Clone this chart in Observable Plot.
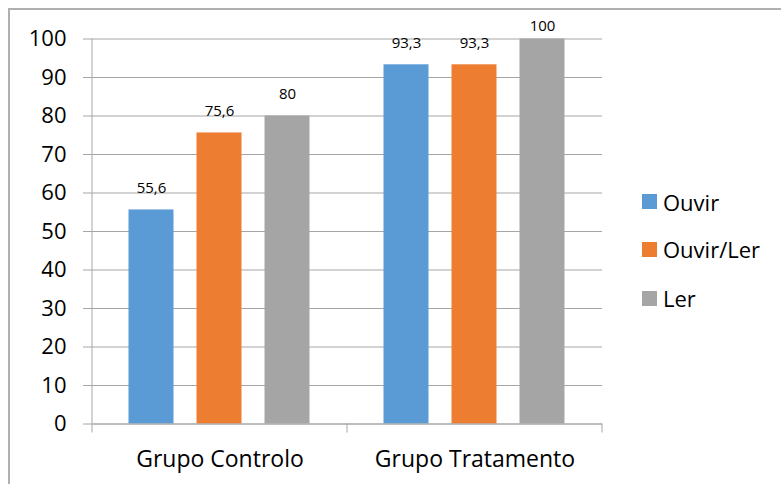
<!DOCTYPE html>
<html><head><meta charset="utf-8">
<script src="https://cdn.jsdelivr.net/npm/d3@7"></script>
<script src="https://cdn.jsdelivr.net/npm/@observablehq/plot@0.6"></script>
<style>
body{margin:0;background:#fff;font-family:"Open Sans", sans-serif;}
#wrap{position:relative;width:781px;height:484px;overflow:hidden;background:#fff;}
#border{position:absolute;left:8px;top:8px;width:800px;height:520px;border-top:2px solid #b0b0b0;border-left:2px solid #b0b0b0;box-sizing:border-box;}
#chart{position:absolute;left:0;top:0;}
#legend{position:absolute;left:642px;top:0;width:139px;height:484px;}
.item{position:absolute;left:0;height:26px;display:flex;align-items:center;white-space:nowrap;font-size:22px;color:#000;}
.sw{width:15px;height:15px;margin-right:6px;flex:none;}
</style></head>
<body><div id="wrap"><div id="border"></div><div id="chart"></div><div id="legend"></div></div>
<script>
const groups = ["Grupo Controlo", "Grupo Tratamento"];
const series = ["Ouvir", "Ouvir/Ler", "Ler"];
const colors = ["#5b9bd5", "#ed7d31", "#a5a5a5"];
const controlo = [55.6, 75.6, 80];
const tratamento = [93.3, 93.3, 100];
const yTicks = [0, 10, 20, 30, 40, 50, 60, 70, 80, 90, 100];

const values = [controlo, tratamento];
const data = [];
groups.forEach((g, i) => series.forEach((s, j) => data.push({group: g, series: s, value: values[i][j]})));
const fmt = v => String(v).replace(".", ",");
const gridColor = "#a6a6a6";
const font = "'Open Sans', sans-serif";
const atTop = d => d.value >= 100;

const plot = Plot.plot({
  width: 781, height: 484,
  marginLeft: 91.5, marginRight: 179.5, marginTop: 38.5, marginBottom: 60.5,
  style: {fontFamily: font, background: "transparent", color: "#000", overflow: "visible"},
  fx: {domain: groups, paddingInner: 0, paddingOuter: 0, label: null},
  x: {domain: series, paddingInner: 1/3, paddingOuter: 0.5145, axis: null},
  y: {domain: [0, 100], axis: null},
  color: {domain: series, range: colors},
  marks: [
    Plot.gridY(yTicks, {stroke: gridColor, strokeOpacity: 1}),
    Plot.barY(data, {fx: "group", x: "series", y: "value", fill: "series"}),
    Plot.ruleY([0], {stroke: gridColor}),
    Plot.text(data.filter(d => !atTop(d)), {fx: "group", x: "series", y: "value", text: d => fmt(d.value), lineAnchor: "middle", dy: -21.5, fontSize: 15, fill: "#000"}),
    Plot.text(data.filter(atTop), {fx: "group", x: "series", y: "value", text: d => fmt(d.value), lineAnchor: "middle", dy: -12.5, fontSize: 15, fill: "#000"}),
    Plot.axisY(yTicks, {tickSize: 9, tickPadding: 17, fontSize: 22, stroke: gridColor, fill: "#000", label: null}),
    Plot.axisFx({anchor: "bottom", tickSize: 0, tickPadding: 27, fontSize: 23, label: null, fill: "#000"})
  ]
});

// axis line and category boundary ticks, placed through the plot's own scales
const fxs = plot.scale("fx"), ys = plot.scale("y");
const y0 = ys.apply(0), yTop = ys.apply(100);
const bounds = groups.map(g => fxs.apply(g)).concat([fxs.apply(groups[groups.length - 1]) + fxs.bandwidth]);
const g = d3.select(plot).append("g").attr("stroke", gridColor).attr("fill", "none");
g.append("line").attr("x1", bounds[0]).attr("x2", bounds[0]).attr("y1", yTop).attr("y2", y0);
bounds.forEach(b => g.append("line").attr("x1", b).attr("x2", b).attr("y1", y0).attr("y2", y0 + 9));

document.getElementById("chart").appendChild(plot);

// legend
const legendCenters = [201.5, 249, 298];
const legend = document.getElementById("legend");
series.forEach((s, i) => {
  const item = document.createElement("div");
  item.className = "item";
  item.style.top = (legendCenters[i] - 13) + "px";
  const sw = document.createElement("span");
  sw.className = "sw";
  sw.style.background = colors[i];
  item.appendChild(sw);
  item.appendChild(document.createTextNode(s));
  legend.appendChild(item);
});
</script>
</body></html>
